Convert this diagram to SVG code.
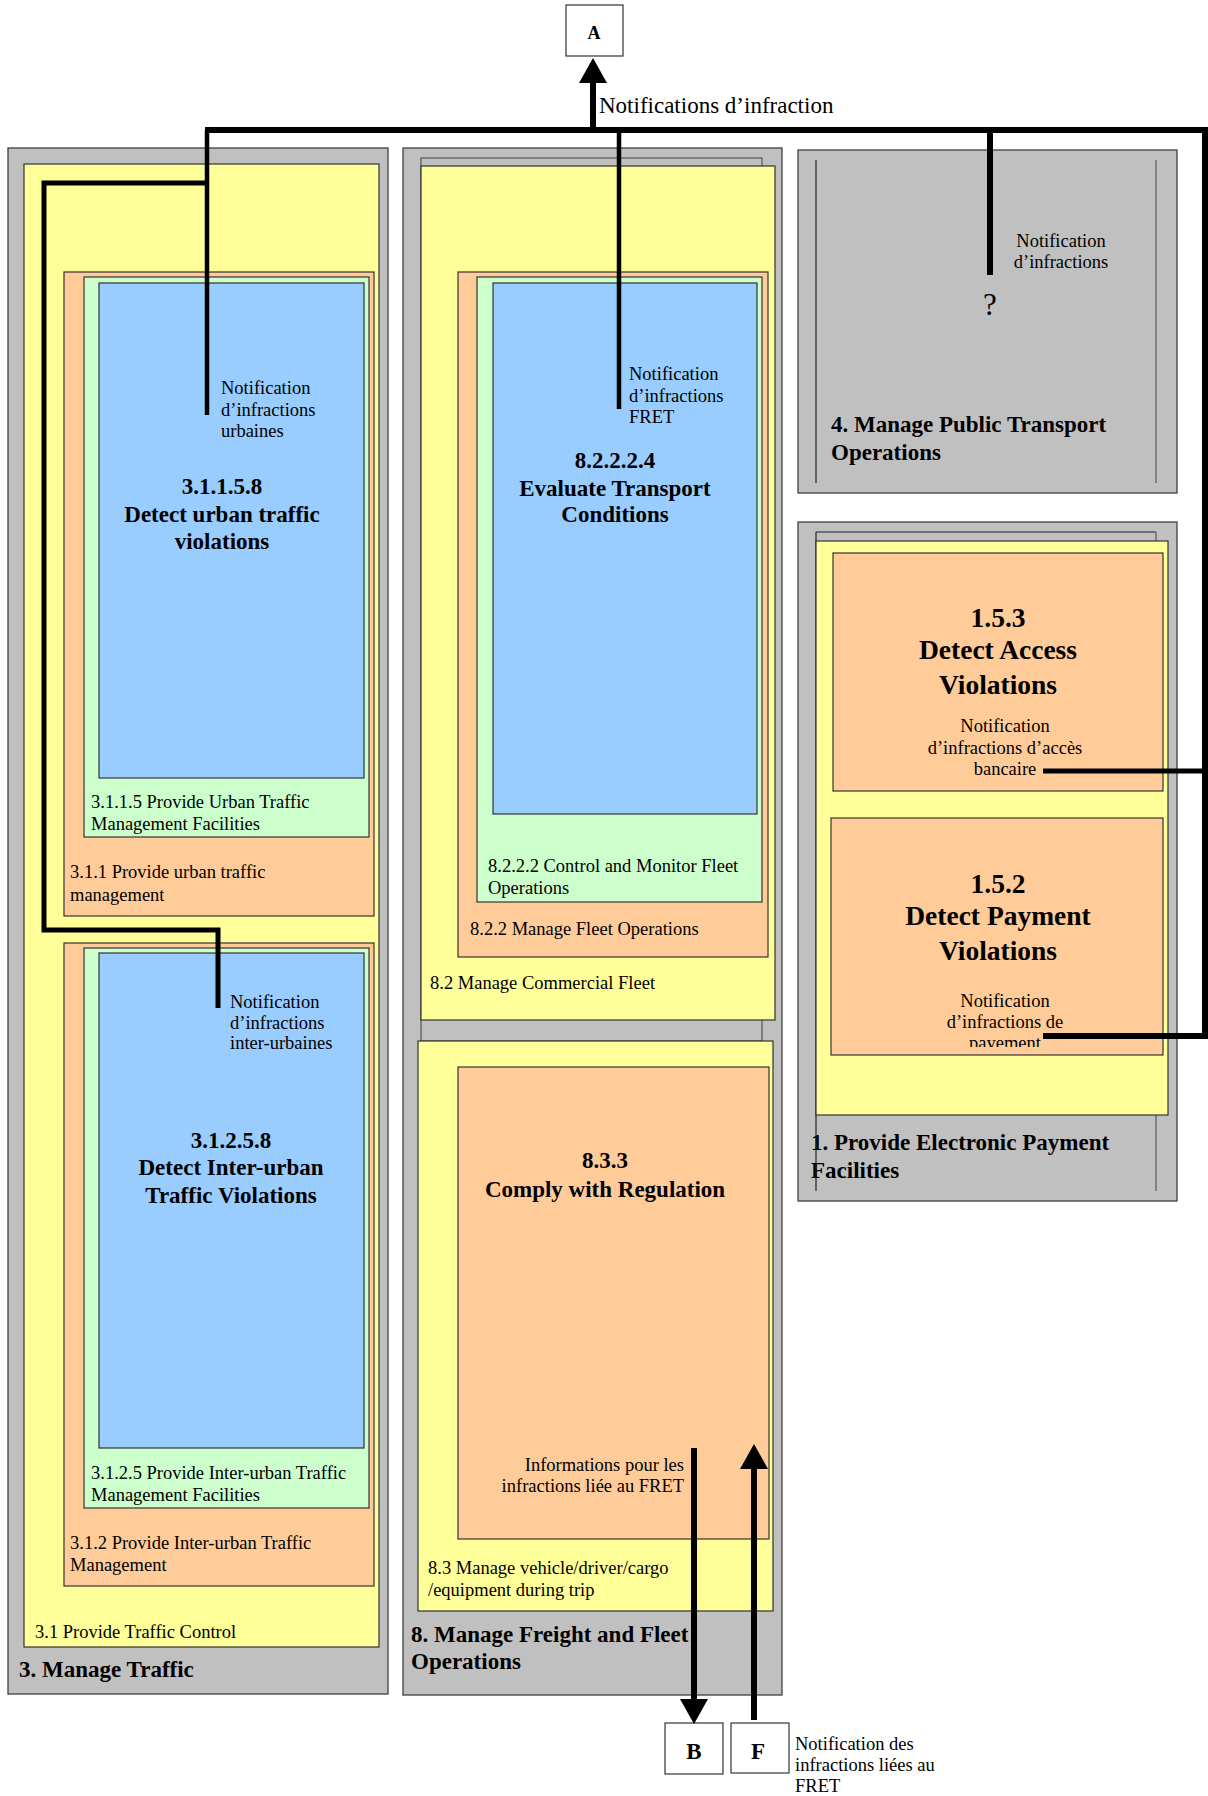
<svg xmlns="http://www.w3.org/2000/svg" width="1208" height="1796" viewBox="0 0 1208 1796">
  <defs>
    <style>
      .gray{fill:#C0C0C0;stroke:#404040;stroke-width:1.3}
      .yel{fill:#FFFF99;stroke:#333;stroke-width:1.2}
      .ora{fill:#FFCC99;stroke:#333;stroke-width:1.2}
      .grn{fill:#CCFFCC;stroke:#333;stroke-width:1.2}
      .blu{fill:#99CCFF;stroke:#333;stroke-width:1.2}
      .ext{fill:#FFFFFF;stroke:#333;stroke-width:1.2}
      .edge{stroke:#222;stroke-width:1.2;fill:none}
      text{font-family:"Liberation Serif","Times New Roman",serif;fill:#000}
      .s{font-size:18.5px}
      .t{font-size:23px;font-weight:bold}
      .big{font-size:27.5px;font-weight:bold}
      .c{text-anchor:middle}
      .e{text-anchor:end}
      .flow{stroke:#000;fill:none;stroke-linejoin:miter}
    </style>
    <marker id="head" viewBox="0 0 25 28" refX="0" refY="14" markerWidth="25" markerHeight="28" markerUnits="userSpaceOnUse" orient="auto">
      <path d="M0,0 L25,14 L0,28 Z" fill="#000"/>
    </marker>
    <clipPath id="clip152">
      <rect x="831" y="819" width="332" height="228"/>
    </clipPath>
  </defs>

  <!-- 3. Manage Traffic -->
  <g id="n3">
    <rect class="gray" x="8" y="148" width="380" height="1546"/>
    <text class="t" x="19" y="1677">3. Manage Traffic</text>
  </g>
  <g id="n3-1">
    <rect class="yel" x="24" y="164" width="355" height="1483"/>
    <text class="s" x="35" y="1638">3.1 Provide Traffic Control</text>
  </g>
  <g id="n3-1-1">
    <rect class="ora" x="64" y="272" width="310" height="644"/>
    <text class="s" x="70" y="878">3.1.1 Provide urban traffic</text>
    <text class="s" x="70" y="901">management</text>
  </g>
  <g id="n3-1-1-5">
    <rect class="grn" x="84" y="277" width="285" height="560"/>
    <text class="s" x="91" y="808">3.1.1.5 Provide Urban Traffic</text>
    <text class="s" x="91" y="830">Management Facilities</text>
  </g>
  <g id="n3-1-1-5-8">
    <rect class="blu" x="99" y="283" width="265" height="495"/>
    <text class="t c" x="222" y="494">3.1.1.5.8</text>
    <text class="t c" x="222" y="522">Detect urban traffic</text>
    <text class="t c" x="222" y="549">violations</text>
  </g>
  <g id="n3-1-2">
    <rect class="ora" x="64" y="943" width="310" height="643"/>
    <text class="s" x="70" y="1549">3.1.2 Provide Inter-urban Traffic</text>
    <text class="s" x="70" y="1571">Management</text>
  </g>
  <g id="n3-1-2-5">
    <rect class="grn" x="84" y="948" width="285" height="560"/>
    <text class="s" x="91" y="1479">3.1.2.5 Provide Inter-urban Traffic</text>
    <text class="s" x="91" y="1501">Management Facilities</text>
  </g>
  <g id="n3-1-2-5-8">
    <rect class="blu" x="99" y="953" width="265" height="495"/>
    <text class="t c" x="231" y="1148">3.1.2.5.8</text>
    <text class="t c" x="231" y="1175">Detect Inter-urban</text>
    <text class="t c" x="231" y="1203">Traffic Violations</text>
  </g>

  <!-- 8. Manage Freight and Fleet Operations -->
  <g id="n8">
    <rect class="gray" x="403" y="148" width="379" height="1547"/>
    <rect x="421" y="158" width="341" height="883" fill="#C0C0C0" stroke="#555" stroke-width="1.2"/>
  </g>
  <g id="n8-2">
    <rect class="yel" x="421" y="166" width="354" height="854"/>
    <text class="s" x="430" y="989">8.2 Manage Commercial Fleet</text>
  </g>
  <g id="n8-2-2">
    <rect class="ora" x="458" y="272" width="310" height="685"/>
    <text class="s" x="470" y="935">8.2.2 Manage Fleet Operations</text>
  </g>
  <g id="n8-2-2-2">
    <rect class="grn" x="477" y="277" width="285" height="625"/>
    <text class="s" x="488" y="872">8.2.2.2 Control and Monitor Fleet</text>
    <text class="s" x="488" y="894">Operations</text>
  </g>
  <g id="n8-2-2-2-4">
    <rect class="blu" x="493" y="283" width="264" height="531"/>
    <text class="t c" x="615" y="468">8.2.2.2.4</text>
    <text class="t c" x="615" y="496">Evaluate Transport</text>
    <text class="t c" x="615" y="522">Conditions</text>
  </g>
  <g id="n8-3">
    <rect class="yel" x="418" y="1041" width="355" height="570"/>
    <text class="s" x="428" y="1574">8.3 Manage vehicle/driver/cargo</text>
    <text class="s" x="428" y="1596">/equipment during trip</text>
  </g>
  <g id="n8-3-3">
    <rect class="ora" x="458" y="1067" width="311" height="472"/>
    <text class="t c" x="605" y="1168">8.3.3</text>
    <text class="t c" x="605" y="1197">Comply with Regulation</text>
  </g>
  <g id="n8-title">
    <text class="t" x="411" y="1642">8. Manage Freight and Fleet</text>
    <text class="t" x="411" y="1669">Operations</text>
  </g>

  <!-- 4. Manage Public Transport Operations -->
  <g id="n4">
    <rect class="gray" x="798" y="150" width="379" height="343"/>
    <line class="edge" x1="816" y1="160" x2="816" y2="483"/>
    <line x1="1156" y1="160" x2="1156" y2="483" stroke="#666" stroke-width="1.4"/>
    <text class="t" x="831" y="432">4. Manage Public Transport</text>
    <text class="t" x="831" y="460">Operations</text>
  </g>

  <!-- 1. Provide Electronic Payment Facilities -->
  <g id="n1">
    <rect class="gray" x="798" y="522" width="379" height="679"/>
    <rect x="816" y="532" width="340" height="659" fill="#C0C0C0" stroke="none"/>
    <line class="edge" x1="816" y1="532" x2="1156" y2="532"/>
    <text class="t" x="811" y="1150">1. Provide Electronic Payment</text>
    <text class="t" x="811" y="1178">Facilities</text>
    <line class="edge" x1="816" y1="532" x2="816" y2="1191"/>
    <line x1="1156" y1="532" x2="1156" y2="1191" stroke="#666" stroke-width="1.4"/>
  </g>
  <g id="n1-5">
    <rect class="yel" x="816" y="541" width="352" height="574"/>
  </g>
  <g id="n1-5-3">
    <rect class="ora" x="833" y="553" width="330" height="238"/>
    <text class="big c" x="998" y="627">1.5.3</text>
    <text class="big c" x="998" y="659">Detect Access</text>
    <text class="big c" x="998" y="694">Violations</text>
  </g>
  <g id="n1-5-2">
    <rect class="ora" x="831" y="818" width="332" height="237"/>
    <text class="big c" x="998" y="893">1.5.2</text>
    <text class="big c" x="998" y="925">Detect Payment</text>
    <text class="big c" x="998" y="960">Violations</text>
  </g>

  <!-- Terminators -->
  <g id="tA">
    <rect class="ext" x="566" y="5" width="57" height="51"/>
    <text class="c" x="594" y="39" font-size="18" font-weight="bold">A</text>
  </g>
  <g id="tB">
    <rect class="ext" x="665" y="1723" width="58" height="51"/>
    <text class="t c" x="694" y="1759">B</text>
  </g>
  <g id="tF">
    <rect class="ext" x="731" y="1723" width="58" height="50"/>
    <text class="t c" x="758" y="1759">F</text>
  </g>

  <!-- Flows -->
  <g id="connectors">
    <path class="flow" stroke-width="6" d="M205,130 H1205 V1036 H1043"/>
    <path class="flow" stroke-width="5" d="M1205,771 H1043"/>
    <path class="flow" stroke-width="6" d="M593,130 V83" marker-end="url(#head)"/>
    <path class="flow" stroke-width="4.5" d="M207,130 V415"/>
    <path class="flow" stroke-width="5" d="M207,183 H44 V930 H218 V1008"/>
    <path class="flow" stroke-width="4.5" d="M619,130 V409"/>
    <path class="flow" stroke-width="6" d="M990,130 V275"/>
    <path class="flow" stroke-width="6" d="M694,1448 V1699" marker-end="url(#head)"/>
    <path class="flow" stroke-width="6" d="M754,1720 V1469" marker-end="url(#head)"/>
  </g>

  <!-- Flow labels -->
  <g id="labels">
    <text x="599" y="113" font-size="23">Notifications d’infraction</text>
    <text class="s" x="221" y="394">Notification</text>
    <text class="s" x="221" y="416">d’infractions</text>
    <text class="s" x="221" y="437">urbaines</text>
    <text class="s" x="230" y="1008">Notification</text>
    <text class="s" x="230" y="1029">d’infractions</text>
    <text class="s" x="230" y="1049">inter-urbaines</text>
    <text class="s" x="629" y="380">Notification</text>
    <text class="s" x="629" y="402">d’infractions</text>
    <text class="s" x="629" y="423">FRET</text>
    <text class="s c" x="1061" y="247">Notification</text>
    <text class="s c" x="1061" y="268">d’infractions</text>
    <text class="c" x="990" y="315" font-size="31">?</text>
    <text class="s c" x="1005" y="732">Notification</text>
    <text class="s c" x="1005" y="754">d’infractions d’accès</text>
    <text class="s c" x="1005" y="775">bancaire</text>
    <g clip-path="url(#clip152)">
      <text class="s c" x="1005" y="1007">Notification</text>
      <text class="s c" x="1005" y="1028">d’infractions de</text>
      <text class="s c" x="1005" y="1049">payement</text>
    </g>
    <text class="s e" x="684" y="1471">Informations pour les</text>
    <text class="s e" x="684" y="1492">infractions liée au FRET</text>
    <text class="s" x="795" y="1750">Notification des</text>
    <text class="s" x="795" y="1771">infractions liées au</text>
    <text class="s" x="795" y="1792">FRET</text>
  </g>
</svg>
